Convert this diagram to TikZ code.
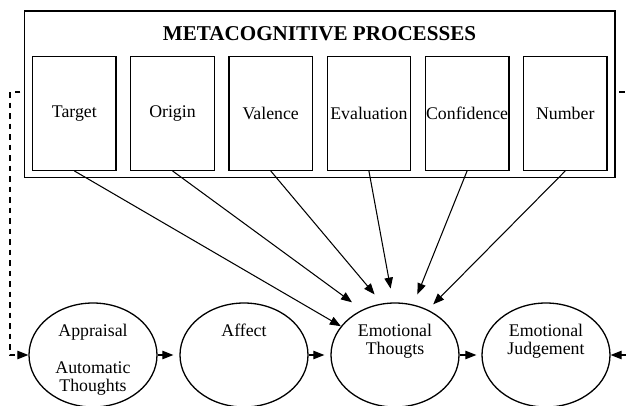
\documentclass[tikz,border=0pt]{standalone}
\usepackage{fontspec}
\setmainfont{Liberation Serif}
\usetikzlibrary{arrows.meta,shapes.geometric}
\begin{document}
\begin{tikzpicture}[x=1pt,y=-1pt,
  body/.style={font=\fontsize{17.8}{18.5}\selectfont},
  outerbox/.style={draw, line width=1.4pt, minimum width=590.5pt, minimum height=166.5pt, inner sep=0pt},
  procbox/.style={draw, line width=1.3pt, minimum width=83.5pt, minimum height=113.5pt, inner sep=0pt, body},
  stage/.style={draw, ellipse, line width=1.3pt, minimum width=128pt, minimum height=104pt, inner sep=0pt},
  stagetext/.style={body, align=center, anchor=north, inner sep=0pt},
  arr/.style={line width=1.05pt, -{Triangle[length=11pt,width=8.5pt]}},
  link/.style={line width=1.05pt, dash pattern=on 5.5pt off 5pt, dash phase=7pt}
]
\useasboundingbox (0,0) rectangle (626,405);
% metacognitive block
\node[outerbox] (meta) at (319.75,94.25) {};
\node[font=\bfseries\fontsize{21.1}{24}\selectfont, anchor=base, inner sep=0pt] (title) at (319.5,40) {METACOGNITIVE PROCESSES};
\node[procbox] (target) at (74.3,113.5) {Target};
\node[procbox] (origin) at (172.5,113.5) {Origin};
\node[procbox] (valence) at (270.7,113.5) {Valence};
\node[procbox] (evaluation) at (368.9,113.5) {Evaluation};
\node[procbox] (confidence) at (467.1,113.5) {Confidence};
\node[procbox] (number) at (565.3,113.5) {Number};
% stages
\node[stage] (appraisal) at (93,355) {};
\node[stage] (affect) at (244,355) {};
\node[stage] (emothought) at (395,355) {};
\node[stage] (emojudge) at (546,355) {};
\node[stagetext] (appraisaltext) at (93,323.8) {Appraisal\\[18.5pt]Automatic\\Thoughts};
\node[stagetext] (affecttext) at (244,323.8) {Affect};
\node[stagetext] (emothoughttext) at (395,323.8) {Emotional\\Thougts};
\node[stagetext] (emojudgetext) at (546,323.8) {Emotional\\Judgement};
% arrows from processes
\draw[arr] (target.south) -- (emothought.152);
\draw[arr, shorten >=12.5pt] (origin.south) -- (emothought.126.6);
\draw[arr, shorten >=11.7pt] (valence.south) -- (emothought.104);
\draw[arr, shorten >=14pt] (evaluation.south) -- (emothought.92);
\draw[arr, shorten >=11pt] (confidence.south) -- (emothought.70);
\draw[arr, shorten >=7.5pt] (number.south) -- (emothought.54);
% sequence arrows
\draw[arr, shorten >=6pt] (appraisal.east) -- (affect.west);
\draw[arr, shorten >=6pt] (affect.east) -- (emothought.west);
\draw[arr, shorten >=5pt] (emothought.east) -- (emojudge.west);
\coordinate (rightin) at (626,355);
\draw[arr] (rightin) -- (emojudge.east);
% dashed feedback links
\coordinate (rightout) at (626,92);
\coordinate (looptop) at (10,92);
\coordinate (loopbottom) at (10,355);
\draw[link] ([yshift=2.25pt]meta.east) -- (rightout);
\draw[link, -{Triangle[length=11pt,width=8.5pt]}] ([yshift=2.25pt]meta.west) -- (looptop) -- (loopbottom) -- (appraisal.west);
\end{tikzpicture}
\end{document}
